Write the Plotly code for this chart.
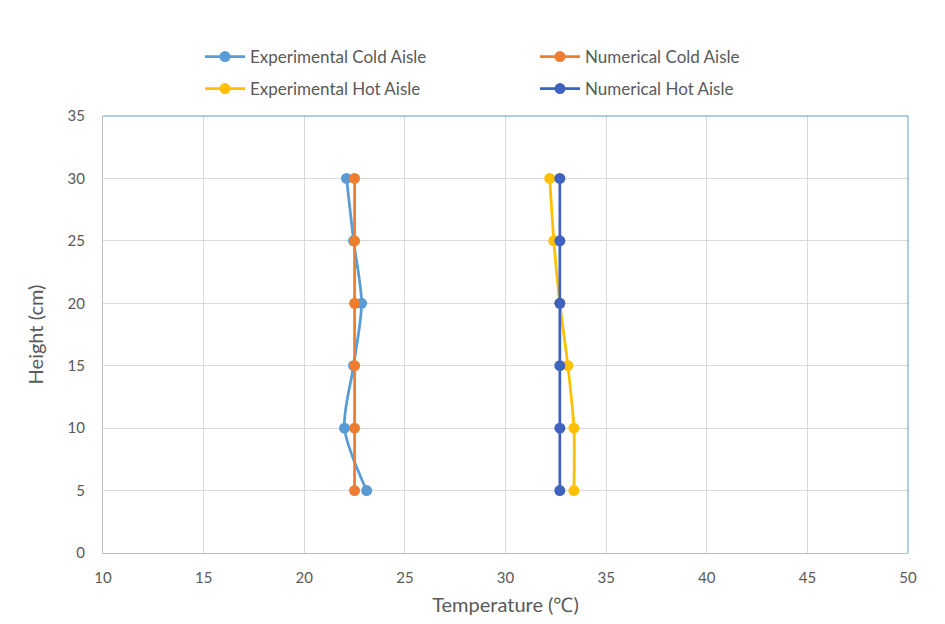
import plotly.graph_objects as go

heights = [30, 25, 20, 15, 10, 5]
exp_cold = [22.1, 22.45, 22.85, 22.45, 22.0, 23.1]
num_cold = [22.5, 22.5, 22.5, 22.5, 22.5, 22.5]
exp_hot = [32.2, 32.4, 32.7, 33.1, 33.4, 33.4]
num_hot = [32.7, 32.7, 32.7, 32.7, 32.7, 32.7]

x_ticks = [10, 15, 20, 25, 30, 35, 40, 45, 50]
y_ticks = [0, 5, 10, 15, 20, 25, 30, 35]

series = [
    ("Experimental Cold Aisle", exp_cold, "#5B9BD5", "legend"),
    ("Numerical Cold Aisle", num_cold, "#ED7D31", "legend2"),
    ("Experimental Hot Aisle", exp_hot, "#FFC000", "legend3"),
    ("Numerical Hot Aisle", num_hot, "#3F62BE", "legend4"),
]

FONT = "Lato"
GREY = "#595959"

fig = go.Figure()
for name, xs, color, lg in series:
    fig.add_trace(go.Scatter(
        x=xs, y=heights, name=name, mode="lines+markers",
        line=dict(color=color, width=2.75, shape="spline", smoothing=0.8),
        marker=dict(color=color, size=11),
        legend=lg,
    ))

leg_common = dict(orientation="h", xanchor="left", yanchor="middle",
                  font=dict(family=FONT, size=17, color=GREY),
                  bgcolor="rgba(0,0,0,0)", itemwidth=40)

col1 = (200 - 103) / 805
col2 = (535 - 103) / 805
row1 = (553 - 57) / 437
row2 = (553 - 89) / 437

tickfont = dict(family=FONT, size=15, color=GREY)
titlefont = dict(family=FONT, size=20, color=GREY)

fig.update_layout(
    width=945, height=624,
    margin=dict(l=103, r=37, t=116, b=71),
    paper_bgcolor="white", plot_bgcolor="white",
    font=dict(family=FONT, color=GREY),
    showlegend=True,
    legend=dict(x=col1, y=row1, **leg_common),
    legend2=dict(x=col2, y=row1, **leg_common),
    legend3=dict(x=col1, y=row2, **leg_common),
    legend4=dict(x=col2, y=row2, **leg_common),
    xaxis=dict(
        range=[10, 50], tickvals=x_ticks, ticktext=[str(v) for v in x_ticks],
        showgrid=True, gridcolor="#D9D9D9", gridwidth=1,
        showline=True, linecolor="#BFBFBF", linewidth=1, automargin=False,
        zeroline=False, ticks="", tickfont=tickfont, ticklabelstandoff=11,
        title=dict(text="Temperature (℃)", font=titlefont, standoff=12),
    ),
    yaxis=dict(
        range=[0, 35], tickvals=y_ticks, ticktext=[str(v) for v in y_ticks],
        showgrid=True, gridcolor="#D9D9D9", gridwidth=1,
        showline=True, linecolor="#BFBFBF", linewidth=1, automargin=False,
        zeroline=False, ticks="", tickfont=tickfont, ticklabelstandoff=14,
        title=dict(text="Height (cm)", font=titlefont, standoff=18),
    ),
)

# thin blue frame on top and right edges of plot area
fig.add_shape(type="line", xref="paper", yref="paper", x0=0, x1=1, y0=1, y1=1,
              line=dict(color="#5B9BD5", width=1))
fig.add_shape(type="line", xref="paper", yref="paper", x0=1, x1=1, y0=0, y1=1,
              line=dict(color="#5B9BD5", width=1))

fig.write_html("out.html")
